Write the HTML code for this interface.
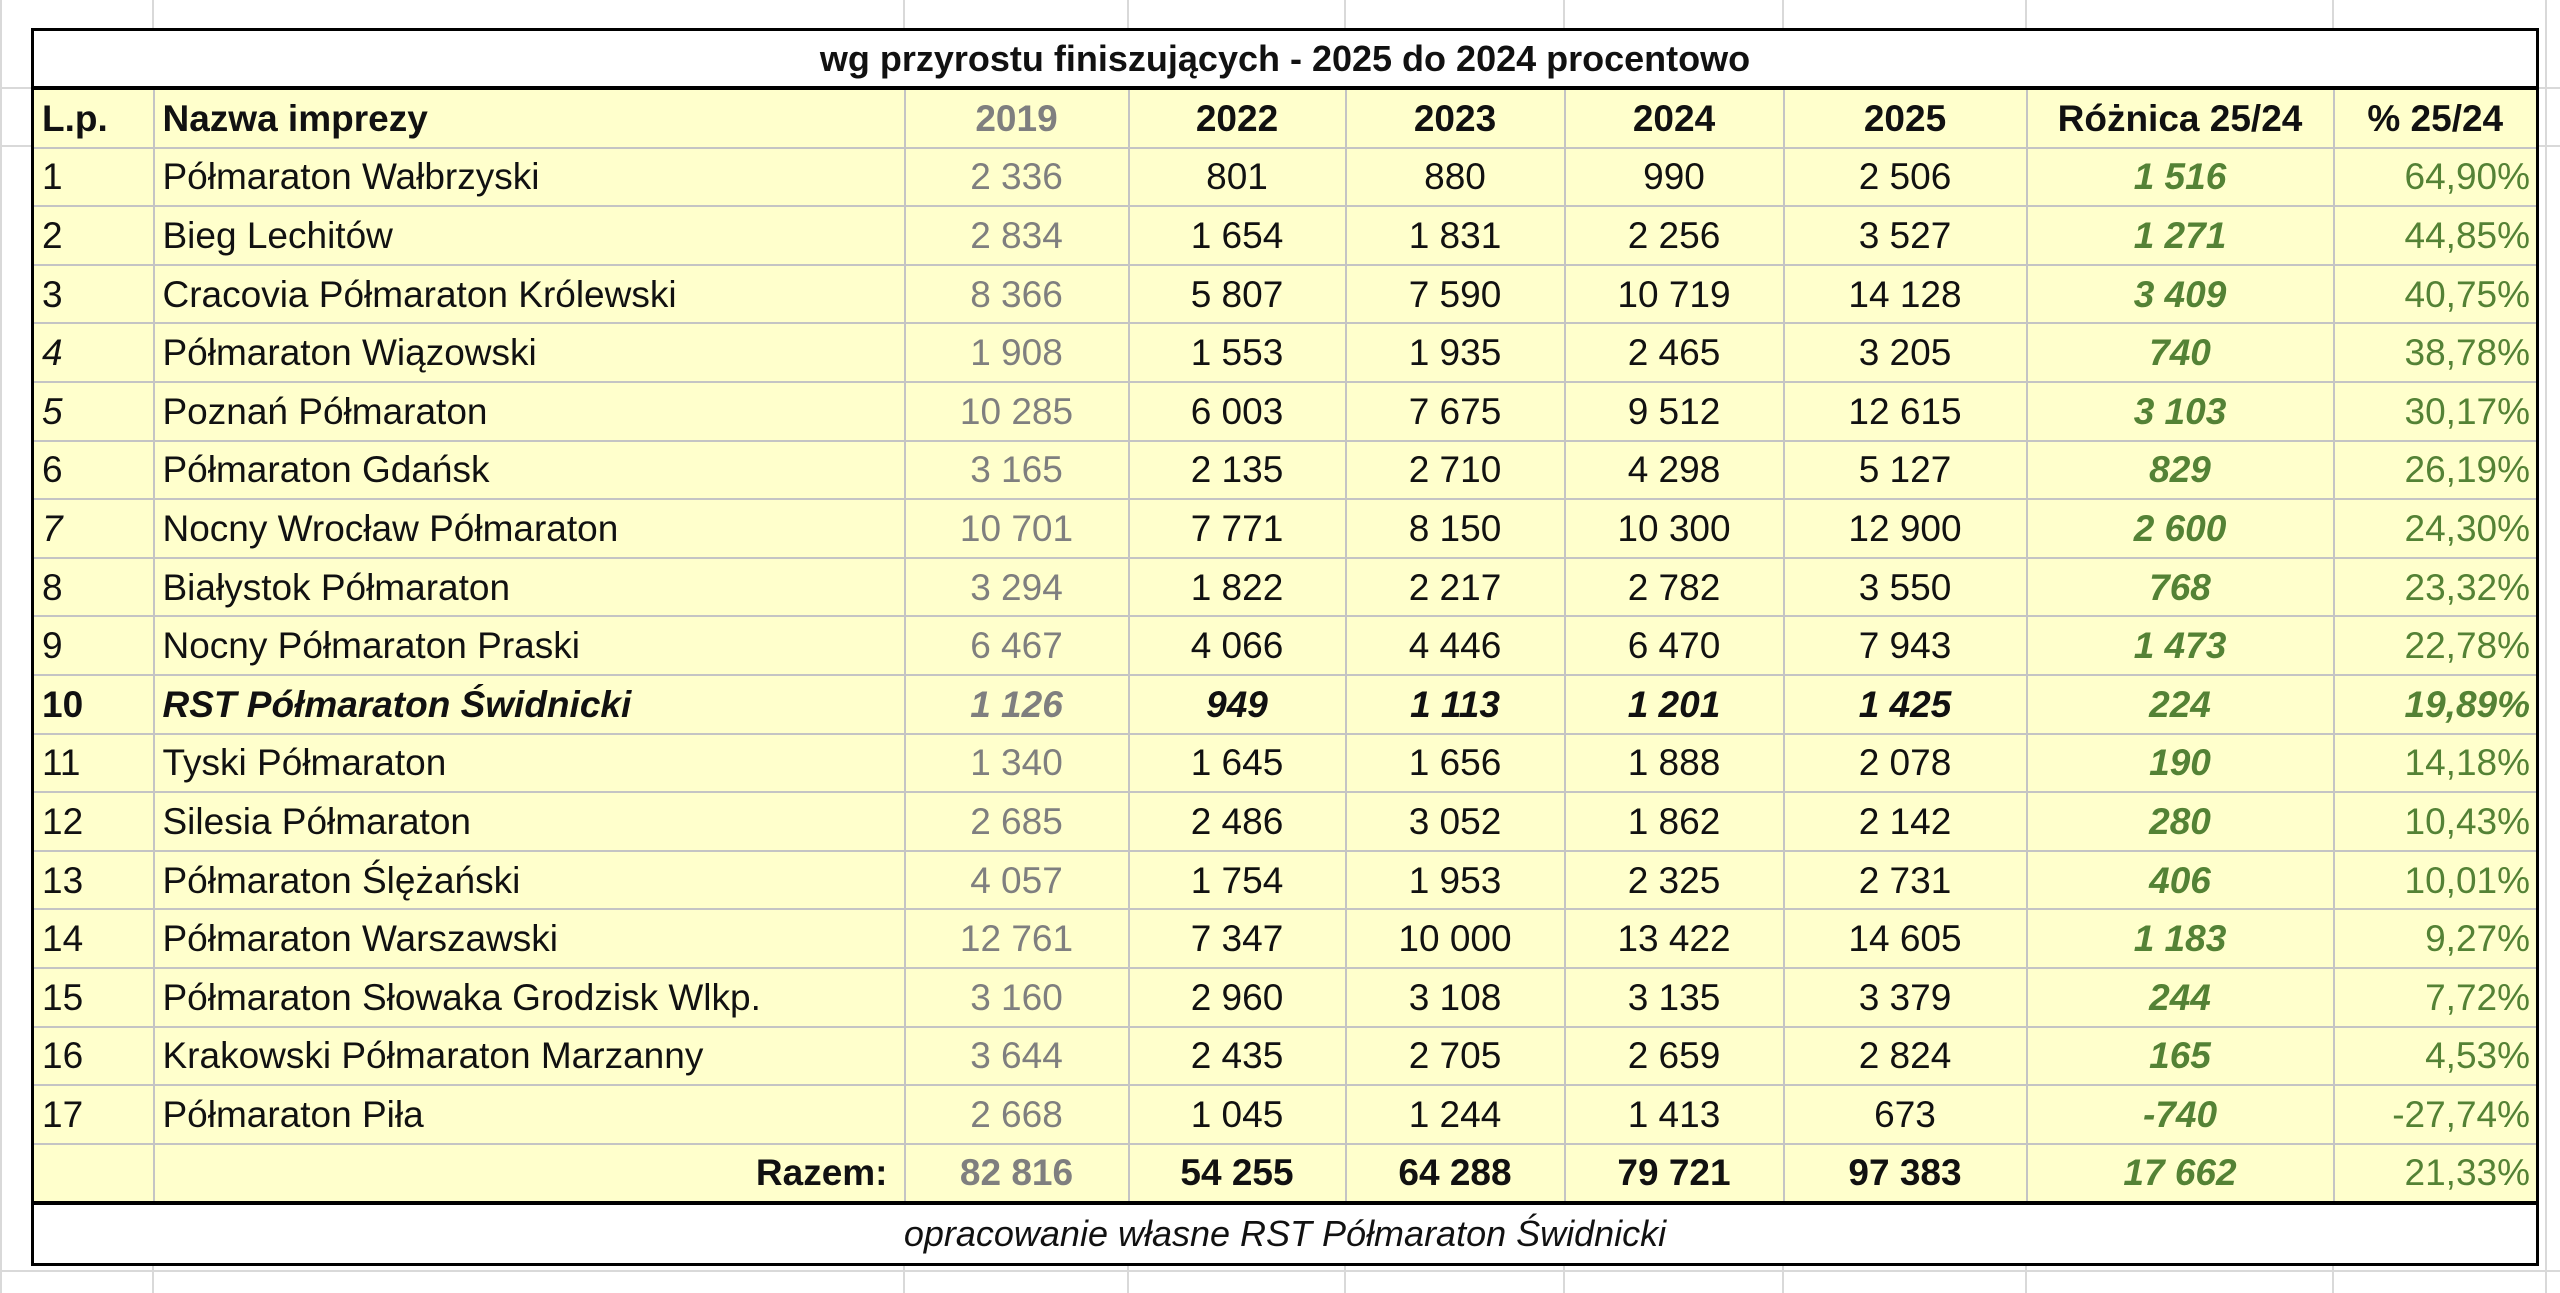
<!DOCTYPE html>
<html><head><meta charset="utf-8">
<style>
html,body{margin:0;padding:0;background:#fff;width:2560px;height:1293px;overflow:hidden;position:relative;font-family:"Liberation Sans",sans-serif;}
.g{position:absolute;background:#d9d9d9;}
table{position:absolute;left:31px;top:28px;width:2505px;border-collapse:collapse;table-layout:fixed;font-size:37px;color:#111;}
td{border:2px solid #c4c4c4;background:#ffffcc;height:56.6px;padding:0 8px;white-space:nowrap;overflow:hidden;line-height:1;}
tr.t td{background:#fff;font-weight:bold;text-align:center;height:55px;border:3px solid #000;border-bottom:4px solid #000;font-size:36px;}
tr.f td{background:#fff;font-style:italic;text-align:center;height:58px;border:3px solid #000;border-top:4px solid #000;font-size:36px;}
.h td{font-weight:bold;}
td.c{text-align:center;}
td.y{text-align:center;color:#7f7f7f;}
td.d{text-align:center;color:#548235;font-weight:bold;font-style:italic;}
td.p{text-align:right;color:#548235;padding-right:6px;}
.b td{font-weight:bold;font-style:italic;}
.b td.first{font-style:normal;}
td.first{border-left:3px solid #000;}
td.last{border-right:3px solid #000;}
tr.z td{border-bottom:3px solid #000;}
</style></head><body>
<div class="g" style="left:0;top:0;width:2px;height:1293px"></div>
<div class="g" style="left:152px;top:0;width:2px;height:1293px"></div>
<div class="g" style="left:903px;top:0;width:2px;height:1293px"></div>
<div class="g" style="left:1127px;top:0;width:2px;height:1293px"></div>
<div class="g" style="left:1344px;top:0;width:2px;height:1293px"></div>
<div class="g" style="left:1563px;top:0;width:2px;height:1293px"></div>
<div class="g" style="left:1782px;top:0;width:2px;height:1293px"></div>
<div class="g" style="left:2025px;top:0;width:2px;height:1293px"></div>
<div class="g" style="left:2332px;top:0;width:2px;height:1293px"></div>
<div class="g" style="left:2545px;top:0;width:2px;height:1293px"></div>
<div class="g" style="left:0;top:87px;width:2560px;height:2px"></div>
<div class="g" style="left:0;top:145px;width:2560px;height:2px"></div>
<div class="g" style="left:0;top:1270px;width:2560px;height:2px"></div>
<table>
<colgroup><col style="width:121px"><col style="width:751px"><col style="width:224px"><col style="width:217px"><col style="width:219px"><col style="width:219px"><col style="width:243px"><col style="width:307px"><col style="width:204px"></colgroup>
<tr class="t"><td colspan="9">wg przyrostu finiszujących - 2025 do 2024 procentowo</td></tr>
<tr class="h"><td class="first">L.p.</td><td>Nazwa imprezy</td><td class="y">2019</td><td class="c">2022</td><td class="c">2023</td><td class="c">2024</td><td class="c">2025</td><td class="c">Różnica 25/24</td><td class="c last">% 25/24</td></tr>
<tr><td class="first">1</td><td>Półmaraton Wałbrzyski</td><td class="y">2 336</td><td class="c">801</td><td class="c">880</td><td class="c">990</td><td class="c">2 506</td><td class="d">1 516</td><td class="p last">64,90%</td></tr>
<tr><td class="first">2</td><td>Bieg Lechitów</td><td class="y">2 834</td><td class="c">1 654</td><td class="c">1 831</td><td class="c">2 256</td><td class="c">3 527</td><td class="d">1 271</td><td class="p last">44,85%</td></tr>
<tr><td class="first">3</td><td>Cracovia Półmaraton Królewski</td><td class="y">8 366</td><td class="c">5 807</td><td class="c">7 590</td><td class="c">10 719</td><td class="c">14 128</td><td class="d">3 409</td><td class="p last">40,75%</td></tr>
<tr><td class="first"><i>4</i></td><td>Półmaraton Wiązowski</td><td class="y">1 908</td><td class="c">1 553</td><td class="c">1 935</td><td class="c">2 465</td><td class="c">3 205</td><td class="d">740</td><td class="p last">38,78%</td></tr>
<tr><td class="first"><i>5</i></td><td>Poznań Półmaraton</td><td class="y">10 285</td><td class="c">6 003</td><td class="c">7 675</td><td class="c">9 512</td><td class="c">12 615</td><td class="d">3 103</td><td class="p last">30,17%</td></tr>
<tr><td class="first">6</td><td>Półmaraton Gdańsk</td><td class="y">3 165</td><td class="c">2 135</td><td class="c">2 710</td><td class="c">4 298</td><td class="c">5 127</td><td class="d">829</td><td class="p last">26,19%</td></tr>
<tr><td class="first"><i>7</i></td><td>Nocny Wrocław Półmaraton</td><td class="y">10 701</td><td class="c">7 771</td><td class="c">8 150</td><td class="c">10 300</td><td class="c">12 900</td><td class="d">2 600</td><td class="p last">24,30%</td></tr>
<tr><td class="first">8</td><td>Białystok Półmaraton</td><td class="y">3 294</td><td class="c">1 822</td><td class="c">2 217</td><td class="c">2 782</td><td class="c">3 550</td><td class="d">768</td><td class="p last">23,32%</td></tr>
<tr><td class="first">9</td><td>Nocny Półmaraton Praski</td><td class="y">6 467</td><td class="c">4 066</td><td class="c">4 446</td><td class="c">6 470</td><td class="c">7 943</td><td class="d">1 473</td><td class="p last">22,78%</td></tr>
<tr class="b"><td class="first">10</td><td>RST Półmaraton Świdnicki</td><td class="y">1 126</td><td class="c">949</td><td class="c">1 113</td><td class="c">1 201</td><td class="c">1 425</td><td class="d">224</td><td class="p last">19,89%</td></tr>
<tr><td class="first">11</td><td>Tyski Półmaraton</td><td class="y">1 340</td><td class="c">1 645</td><td class="c">1 656</td><td class="c">1 888</td><td class="c">2 078</td><td class="d">190</td><td class="p last">14,18%</td></tr>
<tr><td class="first">12</td><td>Silesia Półmaraton</td><td class="y">2 685</td><td class="c">2 486</td><td class="c">3 052</td><td class="c">1 862</td><td class="c">2 142</td><td class="d">280</td><td class="p last">10,43%</td></tr>
<tr><td class="first">13</td><td>Półmaraton Ślężański</td><td class="y">4 057</td><td class="c">1 754</td><td class="c">1 953</td><td class="c">2 325</td><td class="c">2 731</td><td class="d">406</td><td class="p last">10,01%</td></tr>
<tr><td class="first">14</td><td>Półmaraton Warszawski</td><td class="y">12 761</td><td class="c">7 347</td><td class="c">10 000</td><td class="c">13 422</td><td class="c">14 605</td><td class="d">1 183</td><td class="p last">9,27%</td></tr>
<tr><td class="first">15</td><td>Półmaraton Słowaka Grodzisk Wlkp.</td><td class="y">3 160</td><td class="c">2 960</td><td class="c">3 108</td><td class="c">3 135</td><td class="c">3 379</td><td class="d">244</td><td class="p last">7,72%</td></tr>
<tr><td class="first">16</td><td>Krakowski Półmaraton Marzanny</td><td class="y">3 644</td><td class="c">2 435</td><td class="c">2 705</td><td class="c">2 659</td><td class="c">2 824</td><td class="d">165</td><td class="p last">4,53%</td></tr>
<tr><td class="first">17</td><td>Półmaraton Piła</td><td class="y">2 668</td><td class="c">1 045</td><td class="c">1 244</td><td class="c">1 413</td><td class="c">673</td><td class="d">-740</td><td class="p last">-27,74%</td></tr>
<tr class="z"><td class="first"></td><td style="text-align:right;font-weight:bold;padding-right:16px">Razem:</td><td class="y" style="font-weight:bold">82 816</td><td class="c" style="font-weight:bold">54 255</td><td class="c" style="font-weight:bold">64 288</td><td class="c" style="font-weight:bold">79 721</td><td class="c" style="font-weight:bold">97 383</td><td class="d">17 662</td><td class="p last">21,33%</td></tr>
<tr class="f"><td colspan="9">opracowanie własne RST Półmaraton Świdnicki</td></tr>
</table>
</body></html>
